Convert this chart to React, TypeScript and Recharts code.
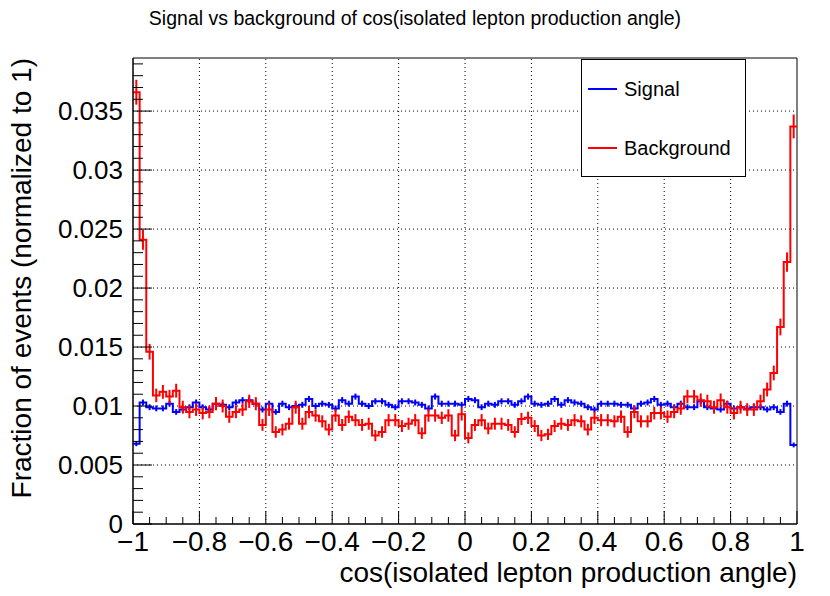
import React from "react";
import {
  ComposedChart,
  Line,
  Scatter,
  ErrorBar,
  XAxis,
  YAxis,
  ReferenceLine,
  ReferenceArea,
  Label,
} from "recharts";

// 100 bins of cos(theta) in [-1, 1], normalized to 1
const X_MIN = -1;
const X_MAX = 1;
const BIN_WIDTH = 0.02;

const signal = [
  0.0068, 0.0103, 0.0099, 0.0098, 0.0098, 0.0102, 0.0095, 0.0097, 0.0099, 0.0103,
  0.0099, 0.0097, 0.0102, 0.0101, 0.0099, 0.0103, 0.0105, 0.0105, 0.0102, 0.0097,
  0.0102, 0.0095, 0.0102, 0.0099, 0.0100, 0.0101, 0.0106, 0.0100, 0.0102, 0.0101,
  0.0098, 0.0105, 0.0102, 0.0108, 0.0102, 0.0100, 0.0104, 0.0104, 0.0101, 0.0099,
  0.0104, 0.0104, 0.0103, 0.0101, 0.0098, 0.0108, 0.0102, 0.0102, 0.0102, 0.0101,
  0.0106, 0.0105, 0.0099, 0.0102, 0.0101, 0.0104, 0.0104, 0.0101, 0.0104, 0.0108,
  0.0102, 0.0101, 0.0102, 0.0106, 0.0101, 0.0105, 0.0103, 0.0102, 0.0099, 0.0097,
  0.0102, 0.0102, 0.0102, 0.0101, 0.0101, 0.0098, 0.0102, 0.0103, 0.0106, 0.0101,
  0.0102, 0.0099, 0.0102, 0.0099, 0.0099, 0.0104, 0.0099, 0.0098, 0.0097, 0.0102,
  0.0098, 0.0099, 0.0098, 0.0099, 0.0099, 0.0097, 0.0099, 0.0095, 0.0102, 0.0067,
];

const background = [
  0.0366, 0.0241, 0.0146, 0.0109, 0.0112, 0.0108, 0.0113, 0.0099, 0.0095, 0.0097,
  0.0094, 0.0095, 0.0102, 0.0100, 0.0091, 0.0095, 0.0097, 0.0104, 0.0102, 0.0084,
  0.0097, 0.0078, 0.0080, 0.0085, 0.0099, 0.0085, 0.0095, 0.0092, 0.0087, 0.0080,
  0.0092, 0.0084, 0.0091, 0.0088, 0.0084, 0.0085, 0.0075, 0.0078, 0.0088, 0.0088,
  0.0083, 0.0085, 0.0088, 0.0077, 0.0092, 0.0092, 0.0090, 0.0092, 0.0075, 0.0093,
  0.0073, 0.0084, 0.0088, 0.0081, 0.0085, 0.0085, 0.0084, 0.0078, 0.0089, 0.0090,
  0.0083, 0.0075, 0.0076, 0.0083, 0.0085, 0.0084, 0.0088, 0.0087, 0.0080, 0.0090,
  0.0088, 0.0088, 0.0087, 0.0091, 0.0078, 0.0095, 0.0087, 0.0087, 0.0094, 0.0094,
  0.0091, 0.0095, 0.0098, 0.0108, 0.0108, 0.0105, 0.0104, 0.0099, 0.0105, 0.0099,
  0.0094, 0.0099, 0.0097, 0.0097, 0.0104, 0.0114, 0.0128, 0.0167, 0.0222, 0.0337,
];

// rough event counts, only used for the sqrt(N) error bars
const SIGNAL_EVENTS = 160000;
const BACKGROUND_EVENTS = 33000;

const xMajor = [-1, -0.8, -0.6, -0.4, -0.2, 0, 0.2, 0.4, 0.6, 0.8, 1];
const yMajor = [0, 0.005, 0.01, 0.015, 0.02, 0.025, 0.03, 0.035];
const Y_TOP = 0.0395;

const xTicks: number[] = [];
for (let i = 0; i <= 40; i++) xTicks.push(Math.round((X_MIN + i * 0.05) * 1000) / 1000);
const yTicks: number[] = [];
for (let i = 0; i <= 39; i++) yTicks.push(Math.round(i * 0.001 * 10000) / 10000);

const SIGNAL_COLOR = "#0000ff";
const BACKGROUND_COLOR = "#ff0000";
const FONT = "'Liberation Sans', Arial, Helvetica, sans-serif";

// step line needs the left edge of every bin plus the closing edge
const toSteps = (vals: number[]) => {
  const pts = vals.map((y, i) => ({ x: X_MIN + i * BIN_WIDTH, y }));
  pts.push({ x: X_MAX, y: vals[vals.length - 1] });
  return pts;
};

const toErrors = (vals: number[], n: number) =>
  vals.map((y, i) => ({
    x: X_MIN + (i + 0.5) * BIN_WIDTH,
    y,
    e: Math.sqrt(y / n),
  }));

const isMajor = (list: number[], v: number) => list.some((m) => Math.abs(m - v) < 1e-7);

const fmtX = (v: number) => String(Number(v.toFixed(2))).replace("-", "\u2212");
const fmtY = (v: number) => String(Number(v.toFixed(3)));

const XTick = (props: any) => {
  const { x, y, payload } = props;
  const major = isMajor(xMajor, payload.value);
  return (
    <g>
      <line x1={x} x2={x} y1={y} y2={y - (major ? 13 : 7)} stroke="#000" strokeWidth={1} />
      {major && (
        <text x={x} y={y + 27} textAnchor="middle" fontSize={28} fontFamily={FONT} fill="#000">
          {fmtX(payload.value)}
        </text>
      )}
    </g>
  );
};

const YTick = (props: any) => {
  const { x, y, payload } = props;
  const major = isMajor(yMajor, payload.value);
  return (
    <g>
      <line x1={x} x2={x + (major ? 19 : 10)} y1={y} y2={y} stroke="#000" strokeWidth={1} />
      {major && (
        <text x={x - 10} y={y + 9} textAnchor="end" fontSize={26} fontFamily={FONT} fill="#000">
          {fmtY(payload.value)}
        </text>
      )}
    </g>
  );
};

const NoDot = () => <g />;

export default function App() {
  const sigSteps = toSteps(signal);
  const bkgSteps = toSteps(background);
  const sigErr = toErrors(signal, SIGNAL_EVENTS);
  const bkgErr = toErrors(background, BACKGROUND_EVENTS);

  return (
    <div
      style={{
        position: "absolute",
        left: 0,
        top: 0,
        width: 830,
        height: 596,
        background: "#fff",
        fontFamily: FONT,
      }}
    >
      <div
        style={{
          position: "absolute",
          left: 0,
          top: 7,
          width: 830,
          textAlign: "center",
          fontSize: 19.5,
          color: "#000",
        }}
      >
        Signal vs background of cos(isolated lepton production angle)
      </div>

      <ComposedChart
        width={830}
        height={596}
        margin={{ top: 58, right: 33, bottom: 0, left: 0 }}
      >
        <XAxis
          type="number"
          dataKey="x"
          domain={[X_MIN, X_MAX]}
          ticks={xTicks}
          interval={0}
          tick={<XTick />}
          tickLine={false}
          tickSize={0}
          tickMargin={0}
          axisLine={{ stroke: "#000" }}
          height={72}
          allowDataOverflow
        >
          <Label
            content={({ viewBox }: any) => (
              <text
                x={viewBox.x + viewBox.width}
                y={viewBox.y + 58}
                textAnchor="end"
                fontSize={28}
                fontFamily={FONT}
                fill="#000"
              >
                cos(isolated lepton production angle)
              </text>
            )}
          />
        </XAxis>
        <YAxis
          type="number"
          domain={[0, Y_TOP]}
          ticks={yTicks}
          interval={0}
          tick={<YTick />}
          tickLine={false}
          tickSize={0}
          tickMargin={0}
          axisLine={{ stroke: "#000" }}
          width={133}
          allowDataOverflow
        >
          <Label
            content={({ viewBox }: any) => (
              <text
                x={31}
                y={viewBox.y}
                transform={`rotate(-90 31 ${viewBox.y})`}
                textAnchor="end"
                fontSize={28}
                fontFamily={FONT}
                fill="#000"
              >
                Fraction of events (normalized to 1)
              </text>
            )}
          />
        </YAxis>

        {xMajor.slice(1, -1).map((v) => (
          <ReferenceLine key={`gx${v}`} x={v} stroke="#000" strokeDasharray="1 3" />
        ))}
        {yMajor.slice(1).map((v) => (
          <ReferenceLine key={`gy${v}`} y={v} stroke="#000" strokeDasharray="1 3" />
        ))}

        <Line
          data={sigSteps}
          dataKey="y"
          type="stepAfter"
          stroke={SIGNAL_COLOR}
          strokeWidth={2}
          dot={false}
          activeDot={false}
          isAnimationActive={false}
        />
        <Scatter data={sigErr} dataKey="y" shape={<NoDot />} isAnimationActive={false}>
          <ErrorBar dataKey="e" direction="y" width={0} stroke={SIGNAL_COLOR} strokeWidth={2} isAnimationActive={false} />
        </Scatter>

        <Line
          data={bkgSteps}
          dataKey="y"
          type="stepAfter"
          stroke={BACKGROUND_COLOR}
          strokeWidth={2}
          dot={false}
          activeDot={false}
          isAnimationActive={false}
        />
        <Scatter data={bkgErr} dataKey="y" shape={<NoDot />} isAnimationActive={false}>
          <ErrorBar dataKey="e" direction="y" width={0} stroke={BACKGROUND_COLOR} strokeWidth={2} isAnimationActive={false} />
        </Scatter>

        <ReferenceArea x1={X_MIN} x2={X_MAX} y1={0} y2={Y_TOP} fill="none" stroke="#000" strokeWidth={1} />
      </ComposedChart>

      {/* legend box, top right of the frame */}
      <div
        style={{
          position: "absolute",
          left: 581,
          top: 59,
          width: 165,
          height: 118,
          background: "#fff",
          border: "1px solid #000",
          boxSizing: "border-box",
          fontSize: 20,
          color: "#000",
        }}
      >
        {[
          { name: "Signal", color: SIGNAL_COLOR, top: 16 },
          { name: "Background", color: BACKGROUND_COLOR, top: 75 },
        ].map((item) => (
          <div
            key={item.name}
            style={{ position: "absolute", left: 6, top: item.top, display: "flex", alignItems: "center" }}
          >
            <span style={{ display: "inline-block", width: 29, height: 2, background: item.color, marginRight: 7 }} />
            <span style={{ lineHeight: "26px" }}>{item.name}</span>
          </div>
        ))}
      </div>
    </div>
  );
}
